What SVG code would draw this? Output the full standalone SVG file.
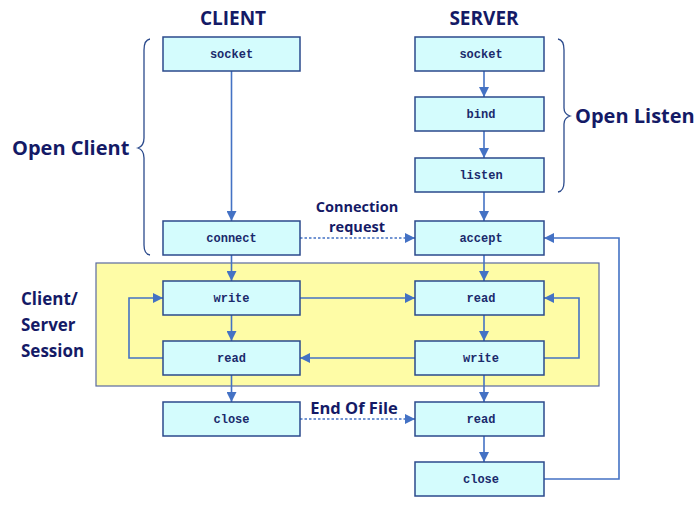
<svg xmlns="http://www.w3.org/2000/svg" width="700" height="507" viewBox="0 0 700 507">
<style>
.box{fill:#d4fcfd;stroke:#2b4a8c;stroke-width:1.5}
.lbl{font-family:"Liberation Mono","Courier New",monospace;font-weight:bold;font-size:12px;fill:#1a2a6c;text-anchor:middle}
.t{font-family:"Open Sans","Noto Sans",sans-serif;font-weight:bold;fill:#141a66}
.c{fill:none;stroke:#4472c4;stroke-width:1.6}
.d{fill:none;stroke:#4472c4;stroke-width:1.4;stroke-dasharray:2.5,2}
.br{fill:none;stroke:#2b4a8c;stroke-width:1.3}
</style>
<defs>
<marker id="a" viewBox="0 0 10 10" refX="10" refY="5" markerWidth="10" markerHeight="10" markerUnits="userSpaceOnUse" orient="auto">
<path d="M0,0L10,5L0,10z" fill="#4472c4"/>
</marker>
</defs>
<rect x="96" y="263" width="503" height="123" fill="#fefca6" stroke="#5a6aa0" stroke-width="1.2"/>
<text class="t" x="233" y="25" font-size="19" text-anchor="middle">CLIENT</text>
<text class="t" x="484" y="25" font-size="19" text-anchor="middle">SERVER</text>
<text class="t" x="12" y="155" font-size="20">Open Client</text>
<text class="t" x="575" y="123" font-size="20">Open Listen</text>
<text class="t" font-size="17"><tspan x="21" y="305">Client/</tspan><tspan x="21" y="331">Server</tspan><tspan x="21" y="357">Session</tspan></text>
<text class="t" font-size="14.5" text-anchor="middle"><tspan x="357" y="212">Connection</tspan><tspan x="357" y="232">request</tspan></text>
<text class="t" x="354" y="414" font-size="16.5" text-anchor="middle">End Of File</text>
<path class="br" d="M150,39 Q144,40 144,50 L144,138 Q144,146 138,148 Q144,150 144,158 L144,245 Q144,254 150,255"/>
<path class="br" d="M558,39 Q564,40 564,50 L564,108 Q564,114 570,116 Q564,118 564,124 L564,182 Q564,191 558,192"/>
<g id="connectors">
<path class="c" d="M231.5,71V221" marker-end="url(#a)"/>
<path class="c" d="M231.5,255V281" marker-end="url(#a)"/>
<path class="c" d="M231.5,315V341" marker-end="url(#a)"/>
<path class="c" d="M231.5,375V402" marker-end="url(#a)"/>
<path class="c" d="M484,71V97" marker-end="url(#a)"/>
<path class="c" d="M484,131V158" marker-end="url(#a)"/>
<path class="c" d="M484,192V221" marker-end="url(#a)"/>
<path class="c" d="M484,255V281" marker-end="url(#a)"/>
<path class="c" d="M484,315V341" marker-end="url(#a)"/>
<path class="c" d="M484,375V402" marker-end="url(#a)"/>
<path class="c" d="M484,436V462" marker-end="url(#a)"/>
<path class="c" d="M300,298H415" marker-end="url(#a)"/>
<path class="c" d="M415,358H300" marker-end="url(#a)"/>
<path class="c" d="M163,358H129V298H163" marker-end="url(#a)"/>
<path class="c" d="M544,358H579V298H544" marker-end="url(#a)"/>
<path class="c" d="M544,479H619V238H544" marker-end="url(#a)"/>
<path class="d" d="M300,238H415" marker-end="url(#a)"/>
<path class="d" d="M300,419H415" marker-end="url(#a)"/>
</g>
<g id="c-socket"><rect class="box" x="163" y="37" width="137" height="34"/><text class="lbl" x="231.5" y="58">socket</text></g>
<g id="c-connect"><rect class="box" x="163" y="221" width="137" height="34"/><text class="lbl" x="231.5" y="242">connect</text></g>
<g id="c-write"><rect class="box" x="163" y="281" width="137" height="34"/><text class="lbl" x="231.5" y="302">write</text></g>
<g id="c-read"><rect class="box" x="163" y="341" width="137" height="34"/><text class="lbl" x="231.5" y="362">read</text></g>
<g id="c-close"><rect class="box" x="163" y="402" width="137" height="34"/><text class="lbl" x="231.5" y="423">close</text></g>
<g id="s-socket"><rect class="box" x="415" y="37" width="129" height="34"/><text class="lbl" x="481" y="58">socket</text></g>
<g id="s-bind"><rect class="box" x="415" y="97" width="129" height="34"/><text class="lbl" x="481" y="118">bind</text></g>
<g id="s-listen"><rect class="box" x="415" y="158" width="129" height="34"/><text class="lbl" x="481" y="179">listen</text></g>
<g id="s-accept"><rect class="box" x="415" y="221" width="129" height="34"/><text class="lbl" x="481" y="242">accept</text></g>
<g id="s-read"><rect class="box" x="415" y="281" width="129" height="34"/><text class="lbl" x="481" y="302">read</text></g>
<g id="s-write"><rect class="box" x="415" y="341" width="129" height="34"/><text class="lbl" x="481" y="362">write</text></g>
<g id="s-read2"><rect class="box" x="415" y="402" width="129" height="34"/><text class="lbl" x="481" y="423">read</text></g>
<g id="s-close"><rect class="box" x="415" y="462" width="129" height="34"/><text class="lbl" x="481" y="483">close</text></g>
</svg>
